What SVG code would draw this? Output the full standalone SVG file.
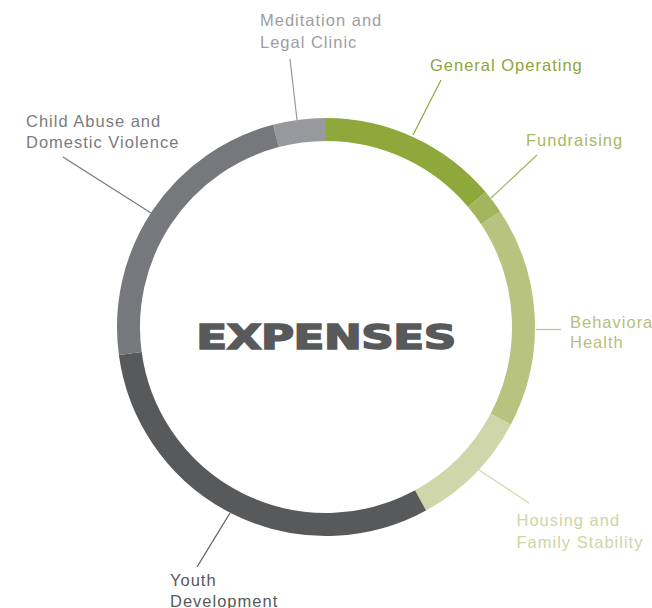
<svg xmlns="http://www.w3.org/2000/svg" width="652" height="608" viewBox="0 0 652 608">
<style>
.seg{fill:none;stroke-width:23;stroke-linecap:butt}
.lbl{font-family:"Liberation Sans",Arial,sans-serif;font-size:16.5px;letter-spacing:1px}
.ld{fill:none;stroke-width:1.2}
</style>
<rect width="652" height="608" fill="#ffffff"/>
<g id="ring">
<path id="seg-meditation" class="seg" stroke="#98999c" d="M275.88,135.96 A197.5,197.5 0 0 1 326,129.5"/>
<path id="seg-general" class="seg" stroke="#8fa83b" d="M326,129.5 A197.5,197.5 0 0 1 476.85,199.51"/>
<path id="seg-fundraising" class="seg" stroke="#a3b55f" d="M476.85,199.51 A197.5,197.5 0 0 1 490.69,218"/>
<path id="seg-behavioral" class="seg" stroke="#b8c380" d="M490.69,218 A197.5,197.5 0 0 1 500.71,419.11"/>
<path id="seg-housing" class="seg" stroke="#cfd7aa" d="M500.71,419.11 A197.5,197.5 0 0 1 420.54,500.41"/>
<path id="seg-youth" class="seg" stroke="#58595b" d="M420.54,500.41 A197.5,197.5 0 0 1 130.28,353.46"/>
<path id="seg-child" class="seg" stroke="#77787b" d="M130.28,353.46 A197.5,197.5 0 0 1 275.88,135.96"/>
</g>
<g id="connectors">
<line class="ld" stroke="#98999c" x1="290" y1="59" x2="297" y2="120"/>
<line class="ld" stroke="#8fa83b" x1="441" y1="80" x2="413" y2="135"/>
<line class="ld" stroke="#a3b55f" x1="537" y1="155" x2="491" y2="198"/>
<line class="ld" stroke="#b8c380" x1="536" y1="329.5" x2="561" y2="329.5"/>
<line class="ld" stroke="#cfd7aa" x1="479" y1="470" x2="529" y2="503"/>
<line class="ld" stroke="#58595b" x1="230" y1="513" x2="197" y2="567"/>
<line class="ld" stroke="#77787b" x1="63" y1="157" x2="151" y2="213"/>
</g>
<g id="title">
<text transform="translate(326,348.5) scale(1.33,1)" x="0" y="0" text-anchor="middle" font-family="'DejaVu Sans',sans-serif" font-weight="bold" font-size="34" letter-spacing="-0.4" fill="#58595b" stroke="#58595b" stroke-width="1.6" stroke-linejoin="miter">EXPENSES</text>
</g>
<g id="label-meditation">
<text class="lbl" fill="#9d9ea1"><tspan x="260" y="26">Meditation and</tspan><tspan x="260" y="47.7">Legal Clinic</tspan></text>
</g>
<g id="label-general">
<text class="lbl" fill="#8da53c" x="430" y="71">General Operating</text>
</g>
<g id="label-fundraising">
<text class="lbl" fill="#a8b865" x="526" y="146">Fundraising</text>
</g>
<g id="label-behavioral">
<text class="lbl" fill="#b5c17c"><tspan x="570" y="328.3">Behavioral</tspan><tspan x="570" y="348.3">Health</tspan></text>
</g>
<g id="label-housing">
<text class="lbl" fill="#cdd5a6"><tspan x="516.5" y="525.7">Housing and</tspan><tspan x="516.5" y="547.7">Family Stability</tspan></text>
</g>
<g id="label-youth">
<text class="lbl" fill="#58595b"><tspan x="170" y="586">Youth</tspan><tspan x="170" y="606.5">Development</tspan></text>
</g>
<g id="label-child">
<text class="lbl" fill="#7a7b7e"><tspan x="26" y="127.3">Child Abuse and</tspan><tspan x="26" y="148.3">Domestic Violence</tspan></text>
</g>
</svg>
